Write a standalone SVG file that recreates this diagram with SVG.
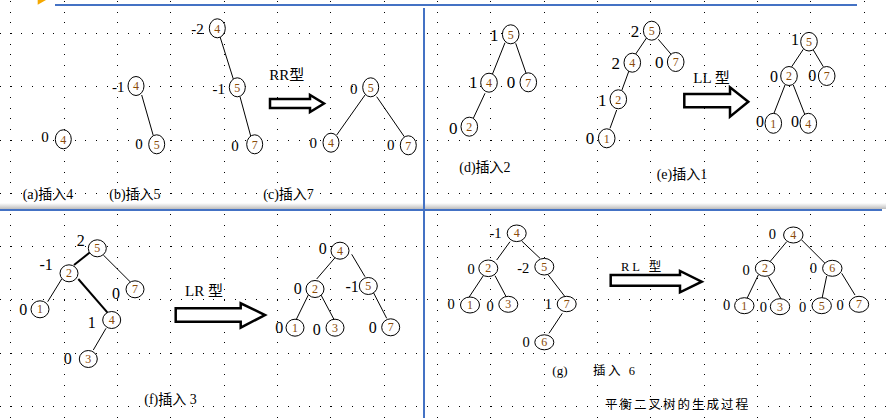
<svg xmlns="http://www.w3.org/2000/svg" width="886" height="418" viewBox="0 0 886 418">
<defs>
<linearGradient id="shadow" x1="0" y1="0" x2="0" y2="1">
<stop offset="0" stop-color="#ffffff"/>
<stop offset="1" stop-color="#bdbdbd"/>
</linearGradient>
</defs>
<style>
.grid path{stroke:#000;stroke-width:1;stroke-dasharray:1 9.6667;fill:none}
.n ellipse{fill:#fff;stroke:#000;stroke-width:1}
.n .d{font-family:"Liberation Serif","Times New Roman",serif;font-size:12px;fill:#8a4b08;text-anchor:middle}
.n .b{font-family:"Liberation Serif","Times New Roman",serif;fill:#000;text-anchor:middle}
.s15 .b{font-size:15px}
.s17 .b{font-size:17px}
.s16 .b{font-size:16px}
.s14 .b{font-size:14.5px}
.edges line{stroke:#000;stroke-width:1}
.edges line.thick{stroke-width:2}
.arrow{fill:#fff;stroke:#000;stroke-width:2.5;stroke-linejoin:miter}
.lbl{font-family:"Liberation Serif","Noto Sans CJK SC",serif;font-size:14px;fill:#000}
.cap{font-family:"Liberation Serif","Noto Sans CJK SC",serif;font-size:12.5px;fill:#000;letter-spacing:2px}
.typ{font-family:"Liberation Serif","Noto Sans CJK SC",serif;font-size:15px;fill:#000}
</style>
<rect x="0" y="0" width="886" height="418" fill="#fff"/>
<g class="grid" shape-rendering="crispEdges">
<path d="M10.5 1V418M64.5 1V418M117.5 1V418M170.5 1V418M224.5 1V418M277.5 1V418M330.5 1V418M384.5 1V418M437.5 1V418M490.5 1V418M544.5 1V418M597.5 1V418M650.5 1V418M704.5 1V418M757.5 1V418M810.5 1V418M864.5 1V418"/>
<path d="M0 33.5H886M0 86.5H886M0 140.5H886M0 193.5H886M0 246.5H886M0 299.5H886M0 353.5H886M0 406.5H886"/>
</g>
<polygon points="37.7,0 46,0 37.7,4.7" fill="#f5a800"/>
<rect x="0" y="203" width="886" height="6" fill="url(#shadow)"/>
<line x1="55" y1="5" x2="857" y2="5" stroke="#4472c4" stroke-width="2"/>
<line x1="0" y1="210" x2="882" y2="210" stroke="#4472c4" stroke-width="2"/>
<line x1="424" y1="8" x2="424" y2="418" stroke="#4472c4" stroke-width="2"/>

<g id="connectors" class="edges">
<line x1="141.7" y1="95" x2="153.3" y2="135.7"/>
<line x1="220" y1="36.7" x2="233.3" y2="79"/>
<line x1="240" y1="96.7" x2="250.7" y2="136"/>
<line x1="365" y1="95" x2="336.7" y2="135"/>
<line x1="376.7" y1="96.7" x2="404.3" y2="136.7"/>
<line x1="505" y1="42.7" x2="491.7" y2="76"/>
<line x1="515.7" y1="43.3" x2="526.7" y2="75"/>
<line x1="485" y1="93.3" x2="473.3" y2="118.3"/>
<line x1="646.7" y1="37.7" x2="635" y2="55"/>
<line x1="658.3" y1="39.3" x2="671.7" y2="55"/>
<line x1="629" y1="70.7" x2="621.7" y2="90.7"/>
<line x1="616.7" y1="110" x2="610" y2="128.3"/>
<line x1="803.3" y1="49.3" x2="791.7" y2="66.7"/>
<line x1="813.3" y1="50" x2="823.3" y2="66.7"/>
<line x1="785" y1="85" x2="773.3" y2="115"/>
<line x1="793.3" y1="85" x2="805" y2="115"/>
<line class="thick" x1="90" y1="252.3" x2="74" y2="265"/>
<line x1="103.3" y1="255" x2="130.7" y2="282.3"/>
<line x1="61.7" y1="279" x2="47.7" y2="301.7"/>
<line class="thick" x1="78.3" y1="279" x2="107.3" y2="312.3"/>
<line x1="106" y1="328.3" x2="93.3" y2="350"/>
<line x1="335" y1="257.7" x2="316.7" y2="279"/>
<line x1="351.7" y1="254.3" x2="365" y2="276.7"/>
<line x1="308.3" y1="295" x2="296" y2="320"/>
<line x1="321" y1="295" x2="334.3" y2="320"/>
<line x1="373.3" y1="292.3" x2="386.7" y2="318.3"/>
<line x1="510" y1="241.7" x2="496.7" y2="260"/>
<line x1="521.7" y1="241" x2="540" y2="258.3"/>
<line x1="483.3" y1="275.7" x2="468.3" y2="298.3"/>
<line x1="495" y1="275.7" x2="506.7" y2="297.7"/>
<line x1="548.3" y1="275" x2="565" y2="296.7"/>
<line x1="562.3" y1="313.3" x2="549" y2="333.3"/>
<line x1="786.7" y1="241.7" x2="770" y2="261.7"/>
<line x1="801.7" y1="240" x2="825" y2="263.3"/>
<line x1="758.3" y1="275" x2="746.7" y2="299"/>
<line x1="768.3" y1="276.7" x2="781.7" y2="300"/>
<line x1="826.7" y1="276" x2="821.7" y2="300"/>
<line x1="841.7" y1="273.3" x2="855" y2="295"/>
</g>

<!-- panels a-c -->
<g class="s15">
<g id="a-4" class="n"><ellipse cx="63.3" cy="139.3" rx="8" ry="9.5"/><text class="d" x="63.3" y="143.5">4</text><text class="b" x="45" y="142">0</text></g>
<g id="b-4" class="n"><ellipse cx="136" cy="86" rx="8" ry="9.5"/><text class="d" x="136" y="90.2">4</text><text class="b" x="118.3" y="91.7">-1</text></g>
<g id="b-5" class="n"><ellipse cx="156.7" cy="144.3" rx="8" ry="9.5"/><text class="d" x="156.7" y="148.5">5</text><text class="b" x="139" y="149">0</text></g>
<g id="c-4" class="n"><ellipse cx="217.3" cy="28.3" rx="8" ry="9.5"/><text class="d" x="217.3" y="32.5">4</text><text class="b" x="197.5" y="34.3">-2</text></g>
<g id="c-5" class="n"><ellipse cx="237.3" cy="87.3" rx="8" ry="9.5"/><text class="d" x="237.3" y="91.5">5</text><text class="b" x="218.8" y="94">-1</text></g>
<g id="c-7" class="n"><ellipse cx="254.7" cy="144.3" rx="8" ry="9.5"/><text class="d" x="254.7" y="148.5">7</text><text class="b" x="235" y="151">0</text></g>
<g id="rr-5" class="n"><ellipse cx="370.7" cy="87.3" rx="8" ry="9.5"/><text class="d" x="370.7" y="91.5">5</text><text class="b" x="353.7" y="94">0</text></g>
<g id="rr-4" class="n"><ellipse cx="331" cy="142.7" rx="8" ry="9.5"/><text class="d" x="331" y="146.9">4</text><text class="b" x="313.3" y="148">0</text></g>
<g id="rr-7" class="n"><ellipse cx="408.3" cy="145.3" rx="8" ry="9.5"/><text class="d" x="408.3" y="149.5">7</text><text class="b" x="390.7" y="150">0</text></g>
</g>

<!-- panels d-e -->
<g class="s17">
<g id="d-5" class="n"><ellipse cx="510.7" cy="34.3" rx="8.3" ry="9.5"/><text class="d" x="510.7" y="38.5">5</text><text class="b" x="494.3" y="40.7">1</text></g>
<g id="d-4" class="n"><ellipse cx="489" cy="82.7" rx="8.3" ry="9.5"/><text class="d" x="489" y="86.9">4</text><text class="b" x="473.3" y="88.4">1</text></g>
<g id="d-7" class="n"><ellipse cx="528.3" cy="82.3" rx="8.3" ry="9.5"/><text class="d" x="528.3" y="86.5">7</text><text class="b" x="511" y="87.7">0</text></g>
<g id="d-2" class="n"><ellipse cx="469.3" cy="126.7" rx="8.3" ry="9.5"/><text class="d" x="469.3" y="130.9">2</text><text class="b" x="453.3" y="133.7">0</text></g>
<g id="e-5" class="n"><ellipse cx="651.7" cy="30.7" rx="8.3" ry="9.5"/><text class="d" x="651.7" y="34.9">5</text><text class="b" x="635" y="37.4">2</text></g>
<g id="e-4" class="n"><ellipse cx="632.3" cy="62.7" rx="8.3" ry="9.5"/><text class="d" x="632.3" y="66.9">4</text><text class="b" x="615.7" y="68.7">2</text></g>
<g id="e-7" class="n"><ellipse cx="675.7" cy="62" rx="8.3" ry="9.5"/><text class="d" x="675.7" y="66.2">7</text><text class="b" x="659.3" y="67.7">0</text></g>
<g id="e-2" class="n"><ellipse cx="618.3" cy="99.3" rx="8.3" ry="9.5"/><text class="d" x="618.3" y="103.5">2</text><text class="b" x="602.3" y="105.7">1</text></g>
<g id="e-1" class="n"><ellipse cx="606.7" cy="138.3" rx="8.3" ry="9.5"/><text class="d" x="606.7" y="142.5">1</text><text class="b" x="590" y="143.7">0</text></g>
</g>
<g class="s16">
<g id="ll-5" class="n"><ellipse cx="809" cy="41.7" rx="8.3" ry="9.3"/><text class="d" x="809" y="45.9">5</text><text class="b" x="795" y="44.5">1</text></g>
<g id="ll-2" class="n"><ellipse cx="789" cy="76" rx="8.3" ry="9.5"/><text class="d" x="789" y="80.2">2</text><text class="b" x="774" y="82.1">0</text></g>
<g id="ll-7" class="n"><ellipse cx="826.7" cy="76" rx="8.3" ry="9.5"/><text class="d" x="826.7" y="80.2">7</text><text class="b" x="812.3" y="81.4">0</text></g>
<g id="ll-1" class="n"><ellipse cx="773.3" cy="123.3" rx="8.3" ry="10"/><text class="d" x="773.3" y="127.5">1</text><text class="b" x="760" y="127.1">0</text></g>
<g id="ll-4" class="n"><ellipse cx="808.3" cy="123.3" rx="8.3" ry="10"/><text class="d" x="808.3" y="127.5">4</text><text class="b" x="795" y="127.4">0</text></g>

<!-- panel f -->
<g id="f-5" class="n"><ellipse cx="97.3" cy="248.3" rx="9" ry="8.5"/><text class="d" x="97.3" y="252.3">5</text><text class="b" x="80.7" y="246.4">2</text></g>
<g id="f-2" class="n"><ellipse cx="69" cy="273.3" rx="9" ry="8.5"/><text class="d" x="69" y="277.3">2</text><text class="b" x="46.2" y="270.4">-1</text></g>
<g id="f-7" class="n"><ellipse cx="135" cy="289.3" rx="9" ry="8.5"/><text class="d" x="135" y="293.3">7</text><text class="b" x="116" y="298.7">0</text></g>
<g id="f-1" class="n"><ellipse cx="40" cy="309.3" rx="9" ry="8.5"/><text class="d" x="40" y="313.3">1</text><text class="b" x="23.3" y="315.4">0</text></g>
<g id="f-4" class="n"><ellipse cx="111.7" cy="320" rx="9" ry="8.5"/><text class="d" x="111.7" y="324">4</text><text class="b" x="91.7" y="327.7">1</text></g>
<g id="f-3" class="n"><ellipse cx="88.3" cy="359" rx="9" ry="8.5"/><text class="d" x="88.3" y="363">3</text><text class="b" x="67.7" y="364.4">0</text></g>
<g id="lr-4" class="n"><ellipse cx="340" cy="250.7" rx="9" ry="8.5"/><text class="d" x="340" y="254.7">4</text><text class="b" x="322.7" y="254.4">0</text></g>
<g id="lr-2" class="n"><ellipse cx="315" cy="289" rx="9" ry="8.5"/><text class="d" x="315" y="293">2</text><text class="b" x="297.7" y="293.7">0</text></g>
<g id="lr-5" class="n"><ellipse cx="368.3" cy="286" rx="9" ry="8.5"/><text class="d" x="368.3" y="290">5</text><text class="b" x="352.2" y="292.1">-1</text></g>
<g id="lr-1" class="n"><ellipse cx="295" cy="327.7" rx="9" ry="8.5"/><text class="d" x="295" y="331.7">1</text><text class="b" x="279.3" y="333.1">0</text></g>
<g id="lr-3" class="n"><ellipse cx="335" cy="327.7" rx="9" ry="8.5"/><text class="d" x="335" y="331.7">3</text><text class="b" x="316.7" y="334.7">0</text></g>
<g id="lr-7" class="n"><ellipse cx="390.7" cy="327.3" rx="9" ry="8.5"/><text class="d" x="390.7" y="331.3">7</text><text class="b" x="372.7" y="333.1">0</text></g>
</g>

<!-- panel g -->
<g class="s14">
<g id="g-4" class="n"><ellipse cx="516.7" cy="233.3" rx="9.5" ry="8.3"/><text class="d" x="516.7" y="237.3">4</text><text class="b" x="495.5" y="238.2">-1</text></g>
<g id="g-2" class="n"><ellipse cx="488.3" cy="268.3" rx="9.5" ry="8.3"/><text class="d" x="488.3" y="272.3">2</text><text class="b" x="471" y="273.9">0</text></g>
<g id="g-5" class="n"><ellipse cx="544.3" cy="266.7" rx="9.5" ry="8.3"/><text class="d" x="544.3" y="270.7">5</text><text class="b" x="523.2" y="273.2">-2</text></g>
<g id="g-1" class="n"><ellipse cx="470" cy="305" rx="9.5" ry="8"/><text class="d" x="470" y="309">1</text><text class="b" x="451" y="309.2">0</text></g>
<g id="g-3" class="n"><ellipse cx="508.3" cy="304.3" rx="9.5" ry="8"/><text class="d" x="508.3" y="308.3">3</text><text class="b" x="490" y="310.6">0</text></g>
<g id="g-7" class="n"><ellipse cx="566.7" cy="304" rx="9.5" ry="7.7"/><text class="d" x="566.7" y="308">7</text><text class="b" x="548.3" y="308.9">1</text></g>
<g id="g-6" class="n"><ellipse cx="544.3" cy="342.3" rx="9.5" ry="7.5"/><text class="d" x="544.3" y="346.3">6</text><text class="b" x="526" y="347.2">0</text></g>
<g id="rl-4" class="n"><ellipse cx="793.3" cy="235" rx="9.7" ry="8"/><text class="d" x="793.3" y="239">4</text><text class="b" x="772.3" y="239.2">0</text></g>
<g id="rl-2" class="n"><ellipse cx="765" cy="268.3" rx="9.7" ry="8"/><text class="d" x="765" y="272.3">2</text><text class="b" x="746" y="274.9">0</text></g>
<g id="rl-6" class="n"><ellipse cx="832.3" cy="268.3" rx="9.7" ry="8"/><text class="d" x="832.3" y="272.3">6</text><text class="b" x="813.3" y="272.6">0</text></g>
<g id="rl-1" class="n"><ellipse cx="744.3" cy="305.7" rx="9.7" ry="8"/><text class="d" x="744.3" y="309.7">1</text><text class="b" x="726.7" y="309.9">0</text></g>
<g id="rl-3" class="n"><ellipse cx="780" cy="306.7" rx="9.7" ry="8"/><text class="d" x="780" y="310.7">3</text><text class="b" x="763.3" y="311.6">0</text></g>
<g id="rl-5" class="n"><ellipse cx="821.7" cy="305.7" rx="9.7" ry="8"/><text class="d" x="821.7" y="309.7">5</text><text class="b" x="802.7" y="311.6">0</text></g>
<g id="rl-7" class="n"><ellipse cx="859" cy="304.3" rx="9.7" ry="8"/><text class="d" x="859" y="308.3">7</text><text class="b" x="840" y="309.9">0</text></g>
</g>

<!-- transform arrows -->
<g id="arrow-rr"><polygon class="arrow" points="270,99 310,99 310,95 324,103.5 310,112 310,108 270,108"/></g>
<g id="arrow-ll"><polygon class="arrow" points="684.3,94 730,94 730,87.3 748.3,101.7 730,116.7 730,107.3 684.3,107.3"/></g>
<g id="arrow-lr"><polygon class="arrow" points="175.7,308.3 240.7,308.3 240.7,303.3 265,315 240.7,327.7 240.7,321.7 175.7,321.7"/></g>
<g id="arrow-rl"><polygon class="arrow" points="610.7,275 680,275 680,271 701.7,281.7 680,292.3 680,285.7 610.7,285.7"/></g>

<!-- labels -->
<text class="typ" x="269.3" y="80">RR型</text>
<text class="typ" x="693.3" y="83">LL<tspan dx="3">型</tspan></text>
<text class="typ" x="185" y="295.5">LR 型</text>
<text class="cap" x="621" y="270.5" style="letter-spacing:3px">RL 型</text>

<text class="lbl" x="22.7" y="198.5">(a)插入4</text>
<text class="lbl" x="109.3" y="198.5">(b)插入5</text>
<text class="lbl" x="263.3" y="198.5">(c)插入7</text>
<text class="lbl" x="459.3" y="172">(d)插入2</text>
<text class="lbl" x="656.7" y="178.5">(e)插入1</text>
<text class="lbl" x="144.3" y="404">(f)插入 3</text>
<text class="lbl" x="552.3" y="374.5" style="font-size:13px">(g)</text>
<text class="cap" x="593" y="375" style="letter-spacing:2.5px">插入 6</text>
<text class="cap" x="605" y="409">平衡二叉树的生成过程</text>
</svg>
